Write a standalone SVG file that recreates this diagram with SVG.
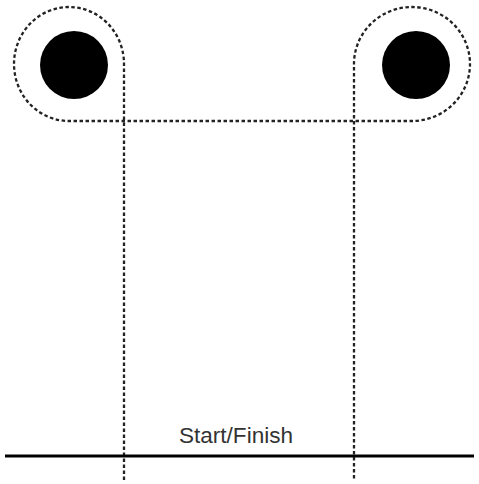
<svg xmlns="http://www.w3.org/2000/svg" width="479" height="484" viewBox="0 0 479 484">
<style>
.track{fill:none;stroke:#222;stroke-width:2.3;stroke-dasharray:3.5 2.5}
.post{fill:#000}
.line{stroke:#000;stroke-width:3}
.lbl{font-family:"Liberation Sans",Arial,sans-serif;font-size:22px;fill:#333;text-anchor:middle}
</style>
<g id="connectors">
<path class="track" d="M124,480 V65 A55,57 0 1 0 69,121 H412 A58,57 0 1 0 354,65 V480"/>
</g>
<g id="post-left"><circle class="post" cx="74" cy="65" r="34"/></g>
<g id="post-right"><circle class="post" cx="416" cy="65" r="34"/></g>
<g id="start-finish">
<line class="line" x1="5" y1="456" x2="474" y2="456"/>
<text class="lbl" x="236" y="443" textLength="114" lengthAdjust="spacingAndGlyphs">Start/Finish</text>
</g>
</svg>
